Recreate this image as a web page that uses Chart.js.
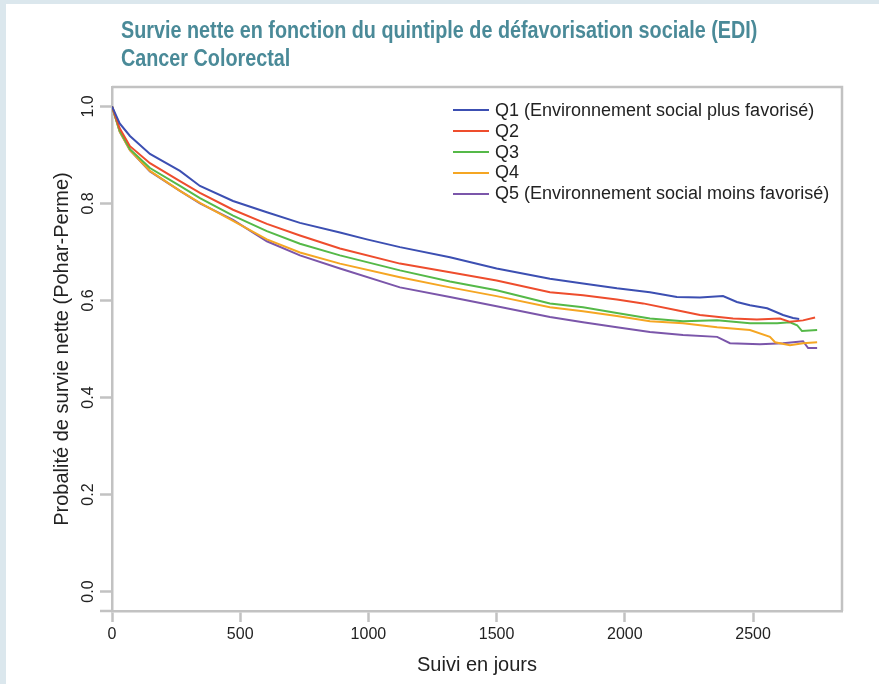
<!DOCTYPE html>
<html lang="fr">
<head>
<meta charset="utf-8">
<title>Survie nette - Cancer Colorectal</title>
<script src="https://cdn.jsdelivr.net/npm/chart.js@4.4.1/dist/chart.umd.min.js"></script>
<style>
  html, body { margin: 0; padding: 0; }
  body { width: 879px; height: 684px; background: #dbe7ed; position: relative; overflow: hidden; }
  #panel { position: absolute; left: 6px; top: 4px; right: 0; bottom: 0; background: #fff; }
  #survivalChart { position: absolute; left: 0; top: 0; }
  #title {
    position: absolute; left: 121px; top: 16px; margin: 0; white-space: nowrap;
    font-family: "Liberation Sans", Arial, sans-serif;
    font-weight: bold; font-size: 23px; line-height: 28px; color: #4a8a98;
    transform: scaleX(0.86); transform-origin: left top;
  }
  #legend { position: absolute; left: 453px; top: 100px; font-family: "Liberation Sans", Arial, sans-serif; font-size: 18px; color: #222; }
  #legend .item { display: flex; align-items: center; height: 20.8px; }
  #legend .swatch { width: 36px; height: 2px; margin-right: 6px; }
</style>
</head>
<body>
<div id="panel"></div>
<canvas id="survivalChart" width="879" height="684"></canvas>
<div id="title">Survie nette en fonction du quintiple de défavorisation sociale (EDI)<br>Cancer Colorectal</div>
<div id="legend"></div>
<script>
const seriesLabels = [
  'Q1 (Environnement social plus favorisé)',
  'Q2',
  'Q3',
  'Q4',
  'Q5 (Environnement social moins favorisé)',
];
const seriesColors = ['#3c4fb2', '#ee4d2d', '#55b948', '#f5a623', '#7b56aa'];

// suivi en jours / survie nette
const q1Days = [0, 30, 70, 148, 265, 343, 472, 604, 733, 889, 994, 1123, 1318, 1500, 1708, 1837, 1969, 2098, 2203, 2293, 2383, 2437, 2488, 2555, 2617, 2656, 2680];
const q1Values = [1.0, 0.965, 0.939, 0.902, 0.867, 0.836, 0.805, 0.782, 0.760, 0.740, 0.726, 0.710, 0.689, 0.666, 0.645, 0.635, 0.625, 0.617, 0.607, 0.606, 0.609, 0.597, 0.590, 0.584, 0.570, 0.564, 0.562];

const q2Days = [0, 30, 70, 148, 265, 343, 472, 604, 733, 889, 1123, 1318, 1500, 1708, 1837, 1969, 2071, 2203, 2293, 2422, 2515, 2605, 2644, 2695, 2742];
const q2Values = [1.0, 0.955, 0.918, 0.883, 0.846, 0.822, 0.787, 0.758, 0.734, 0.707, 0.676, 0.658, 0.641, 0.617, 0.611, 0.602, 0.594, 0.580, 0.570, 0.563, 0.561, 0.563, 0.556, 0.559, 0.565];

const q3Days = [0, 30, 70, 148, 265, 343, 472, 604, 733, 889, 1123, 1318, 1500, 1708, 1837, 1969, 2098, 2227, 2360, 2488, 2594, 2644, 2672, 2691, 2750];
const q3Values = [1.0, 0.95, 0.912, 0.873, 0.836, 0.811, 0.775, 0.743, 0.717, 0.693, 0.662, 0.639, 0.621, 0.594, 0.586, 0.574, 0.563, 0.557, 0.559, 0.553, 0.553, 0.555, 0.549, 0.537, 0.539];

const q4Days = [0, 30, 70, 148, 265, 343, 472, 604, 733, 889, 1123, 1318, 1500, 1708, 1837, 1969, 2098, 2227, 2360, 2488, 2566, 2586, 2644, 2695, 2750];
const q4Values = [1.0, 0.948, 0.910, 0.867, 0.826, 0.801, 0.764, 0.726, 0.699, 0.676, 0.648, 0.627, 0.609, 0.586, 0.578, 0.568, 0.557, 0.553, 0.545, 0.539, 0.525, 0.514, 0.508, 0.512, 0.514];

const q5Days = [0, 30, 70, 148, 265, 343, 472, 604, 733, 889, 1123, 1318, 1500, 1708, 1837, 1969, 2098, 2227, 2360, 2410, 2527, 2617, 2695, 2715, 2750];
const q5Values = [1.0, 0.948, 0.910, 0.866, 0.826, 0.800, 0.766, 0.722, 0.693, 0.666, 0.627, 0.607, 0.588, 0.566, 0.555, 0.545, 0.535, 0.529, 0.525, 0.512, 0.510, 0.512, 0.516, 0.502, 0.502];

const xTicks = [0, 500, 1000, 1500, 2000, 2500];
const yTicks = [0, 0.2, 0.4, 0.6, 0.8, 1.0];

const axisGray = '#c2c2c2';
const allDays = [q1Days, q2Days, q3Days, q4Days, q5Days];
const allValues = [q1Values, q2Values, q3Values, q4Values, q5Values];

function toPoints(days, values) {
  return days.map((d, i) => ({ x: d, y: values[i] }));
}

const datasets = seriesLabels.map((label, idx) => ({
  label,
  data: toPoints(allDays[idx], allValues[idx]),
  borderColor: seriesColors[idx],
  backgroundColor: seriesColors[idx],
  borderWidth: 2,
  pointRadius: 0,
  tension: 0,
}));

// cadre haut/droite + petit prolongement de l'axe x à gauche
const boxPlugin = {
  id: 'box',
  afterDraw(chart) {
    const { ctx, chartArea: a } = chart;
    ctx.save();
    ctx.strokeStyle = axisGray;
    ctx.lineWidth = 2.5;
    ctx.beginPath();
    ctx.moveTo(a.left, a.top);
    ctx.lineTo(a.right, a.top);
    ctx.lineTo(a.right, a.bottom);
    ctx.moveTo(a.left - 12, a.bottom);
    ctx.lineTo(a.left, a.bottom);
    ctx.stroke();
    ctx.restore();
  },
};

const tickFont = { family: '"Liberation Sans", Arial, sans-serif', size: 16 };
const titleFont = { family: '"Liberation Sans", Arial, sans-serif', size: 20 };

new Chart(document.getElementById('survivalChart'), {
  type: 'line',
  data: { datasets },
  options: {
    responsive: false,
    animation: false,
    devicePixelRatio: 1,
    layout: { padding: { left: 50, top: 87, right: 37, bottom: 0 } },
    plugins: { legend: { display: false }, tooltip: { enabled: false } },
    scales: {
      x: {
        type: 'linear',
        min: 0,
        max: 2847,
        afterBuildTicks(axis) { axis.ticks = xTicks.map((v) => ({ value: v })); },
        afterFit(axis) { axis.height = 73; },
        grid: { drawOnChartArea: false, tickLength: 11, tickColor: axisGray, tickWidth: 2.5 },
        border: { color: axisGray, width: 2.5 },
        ticks: { color: '#222', font: tickFont, padding: 3, maxRotation: 0, callback: (v) => String(v) },
        title: {
          display: true,
          text: 'Suivi en jours',
          color: '#222',
          font: titleFont,
          padding: { top: 0, bottom: 7 },
        },
      },
      y: {
        type: 'linear',
        min: -0.04,
        max: 1.04,
        afterBuildTicks(axis) { axis.ticks = yTicks.map((v) => ({ value: v })); },
        afterFit(axis) { axis.width = 62; },
        grid: { drawOnChartArea: false, tickLength: 12, tickColor: axisGray, tickWidth: 2.5 },
        border: { color: axisGray, width: 2.5 },
        ticks: {
          color: '#222',
          font: tickFont,
          padding: 0,
          minRotation: 90,
          maxRotation: 90,
          crossAlign: 'center',
          callback: (v) => Number(v).toFixed(1),
        },
        title: {
          display: true,
          text: 'Probalité de survie nette (Pohar-Perme)',
          color: '#222',
          font: titleFont,
          padding: { top: 0, bottom: 0 },
        },
      },
    },
  },
  plugins: [boxPlugin],
});

// légende en haut à droite, à l'intérieur du cadre
const legendEl = document.getElementById('legend');
seriesLabels.forEach((label, idx) => {
  const item = document.createElement('div');
  item.className = 'item';
  const swatch = document.createElement('span');
  swatch.className = 'swatch';
  swatch.style.background = seriesColors[idx];
  const text = document.createElement('span');
  text.textContent = label;
  item.appendChild(swatch);
  item.appendChild(text);
  legendEl.appendChild(item);
});
</script>
</body>
</html>
